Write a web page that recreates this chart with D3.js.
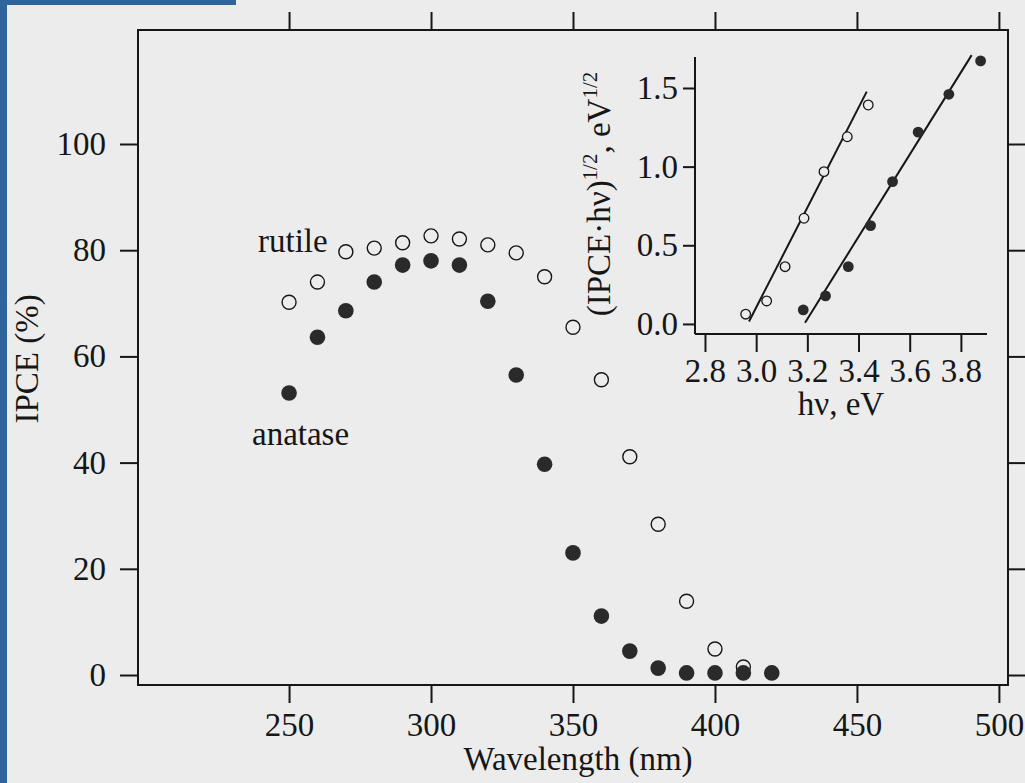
<!DOCTYPE html>
<html>
<head>
<meta charset="utf-8">
<script src="https://cdn.jsdelivr.net/npm/d3@7"></script>
<style>
  body { margin: 0; background: #ececec; }
  svg { display: block; font-family: "Liberation Serif", "Times New Roman", serif; }
  .axis path { display: none; }
  .axis line { stroke: #161616; stroke-width: 2; }
  .axis text { fill: #161616; font-size: 33px; font-family: "Liberation Serif", serif; }
</style>
</head>
<body>
<script>
"use strict";

// main plot: IPCE (%) vs wavelength (nm)
var wavelengths = [250, 260, 270, 280, 290, 300, 310, 320, 330, 340, 350, 360, 370, 380, 390, 400, 410, 420];
var rutileIPCE  = [70.2, 74.0, 79.7, 80.4, 81.4, 82.7, 82.1, 81.0, 79.5, 75.0, 65.5, 55.6, 41.1, 28.4, 13.9, 4.9, 1.5];
var anataseIPCE = [53.1, 63.6, 68.6, 74.0, 77.2, 78.0, 77.2, 70.4, 56.5, 39.7, 23.0, 11.1, 4.5, 1.3, 0.4, 0.4, 0.4, 0.4];
var xTicks = [250, 300, 350, 400, 450, 500];
var yTicks = [0, 20, 40, 60, 80, 100];

// inset: (IPCE*hv)^1/2 vs hv
var rutileHv   = [2.959, 3.041, 3.113, 3.187, 3.265, 3.356, 3.438];
var rutileSq   = [0.062, 0.146, 0.364, 0.672, 0.968, 1.19, 1.392];
var anataseHv  = [3.184, 3.271, 3.360, 3.447, 3.533, 3.633, 3.753, 3.877];
var anataseSq  = [0.089, 0.178, 0.364, 0.625, 0.905, 1.219, 1.46, 1.672];
var rutileFit  = [[2.972, 0.015], [3.432, 1.477]];
var anataseFit = [[3.191, 0.008], [3.842, 1.709]];
var insetXTicks = [2.8, 3.0, 3.2, 3.4, 3.6, 3.8];
var insetYTicks = [0.0, 0.5, 1.0, 1.5];

var W = 1025, H = 783;
var ink = "#161616";

var svg = d3.select("body").append("svg")
    .attr("width", W)
    .attr("height", H);

svg.append("rect").attr("width", W).attr("height", H).attr("fill", "#ececec");

// blue slide border
svg.append("rect").attr("x", 0).attr("y", 0).attr("width", 7).attr("height", H).attr("fill", "#2f659a");
svg.append("rect").attr("x", 0).attr("y", 0).attr("width", 236).attr("height", 5).attr("fill", "#2f659a");

// scales
var x = d3.scaleLinear().domain([196.8, 503.2]).range([138, 1008]);
var y = d3.scaleLinear().domain([-1.88, 121.47]).range([685, 30]);

// frame
svg.append("rect")
    .attr("x", 138).attr("y", 30)
    .attr("width", 1008 - 138).attr("height", 685 - 30)
    .attr("fill", "none").attr("stroke", ink).attr("stroke-width", 2);

svg.append("g").attr("class", "axis")
    .attr("transform", "translate(138,0)")
    .call(d3.axisLeft(y).tickValues(yTicks).tickSize(18).tickPadding(14).tickFormat(d3.format("d")));

svg.append("g").attr("class", "axis")
    .attr("transform", "translate(1008,0)")
    .call(d3.axisRight(y).tickValues(yTicks).tickSize(17).tickFormat(""));

svg.append("g").attr("class", "axis")
    .attr("transform", "translate(0,685)")
    .call(d3.axisBottom(x).tickValues(xTicks).tickSize(18).tickPadding(10).tickFormat(d3.format("d")));

svg.append("g").attr("class", "axis")
    .attr("transform", "translate(0,30)")
    .call(d3.axisTop(x).tickValues(xTicks).tickSize(18).tickFormat(""));

// axis titles
svg.append("text")
    .attr("x", 578).attr("y", 770)
    .attr("text-anchor", "middle")
    .attr("font-size", 33).attr("fill", ink)
    .text("Wavelength (nm)");

svg.append("text")
    .attr("transform", "translate(38,359) rotate(-90)")
    .attr("text-anchor", "middle")
    .attr("font-size", 33).attr("fill", ink)
    .text("IPCE (%)");

// series labels
svg.append("text").attr("x", 258).attr("y", 252)
    .attr("font-size", 33).attr("fill", ink).text("rutile");
svg.append("text").attr("x", 252).attr("y", 445)
    .attr("font-size", 33).attr("fill", ink).text("anatase");

// rutile (open) then anatase (filled)
svg.append("g").selectAll("circle")
    .data(rutileIPCE)
  .enter().append("circle")
    .attr("cx", function(d, i) { return x(wavelengths[i]); })
    .attr("cy", function(d) { return y(d); })
    .attr("r", 7)
    .attr("fill", "#ececec")
    .attr("stroke", ink)
    .attr("stroke-width", 1.4);

svg.append("g").selectAll("circle")
    .data(anataseIPCE)
  .enter().append("circle")
    .attr("cx", function(d, i) { return x(wavelengths[i]); })
    .attr("cy", function(d) { return y(d); })
    .attr("r", 7.8)
    .attr("fill", "#2b2a2a");

// ---- inset ----
var ix = d3.scaleLinear().domain([2.761, 3.902]).range([695, 987]);
var iy = d3.scaleLinear().domain([-0.064, 1.697]).range([334, 57]);

var inset = svg.append("g");

inset.append("line")
    .attr("x1", 695).attr("x2", 695).attr("y1", 57).attr("y2", 334)
    .attr("stroke", ink).attr("stroke-width", 2);
inset.append("line")
    .attr("x1", 695).attr("x2", 987).attr("y1", 334).attr("y2", 334)
    .attr("stroke", ink).attr("stroke-width", 2);

inset.append("g").attr("class", "axis")
    .attr("transform", "translate(695,0)")
    .call(d3.axisLeft(iy).tickValues(insetYTicks).tickSize(12).tickPadding(5).tickFormat(d3.format(".1f")));

inset.append("g").attr("class", "axis")
    .attr("transform", "translate(0,334)")
    .call(d3.axisBottom(ix).tickValues(insetXTicks).tickSize(18).tickPadding(7).tickFormat(d3.format(".1f")));

inset.append("text")
    .attr("x", 841).attr("y", 415)
    .attr("text-anchor", "middle")
    .attr("font-size", 33).attr("fill", ink)
    .text("hν, eV");

var ylab = inset.append("text")
    .attr("transform", "translate(610,194) rotate(-90)")
    .attr("text-anchor", "middle")
    .attr("font-size", 33).attr("fill", ink);
ylab.append("tspan").text("(IPCE·hν)");
ylab.append("tspan").attr("font-size", 21).attr("dy", -13).text("1/2");
ylab.append("tspan").attr("dy", 13).text(", eV");
ylab.append("tspan").attr("font-size", 21).attr("dy", -13).text("1/2");

var fitLine = d3.line()
    .x(function(d) { return ix(d[0]); })
    .y(function(d) { return iy(d[1]); });

inset.append("path").datum(rutileFit).attr("d", fitLine)
    .attr("fill", "none").attr("stroke", ink).attr("stroke-width", 2);
inset.append("path").datum(anataseFit).attr("d", fitLine)
    .attr("fill", "none").attr("stroke", ink).attr("stroke-width", 2);

inset.append("g").selectAll("circle")
    .data(rutileSq)
  .enter().append("circle")
    .attr("cx", function(d, i) { return ix(rutileHv[i]); })
    .attr("cy", function(d) { return iy(d); })
    .attr("r", 4.8)
    .attr("fill", "#ececec")
    .attr("stroke", ink)
    .attr("stroke-width", 1.3);

inset.append("g").selectAll("circle")
    .data(anataseSq)
  .enter().append("circle")
    .attr("cx", function(d, i) { return ix(anataseHv[i]); })
    .attr("cy", function(d) { return iy(d); })
    .attr("r", 5.4)
    .attr("fill", "#2b2a2a");
</script>
</body>
</html>
